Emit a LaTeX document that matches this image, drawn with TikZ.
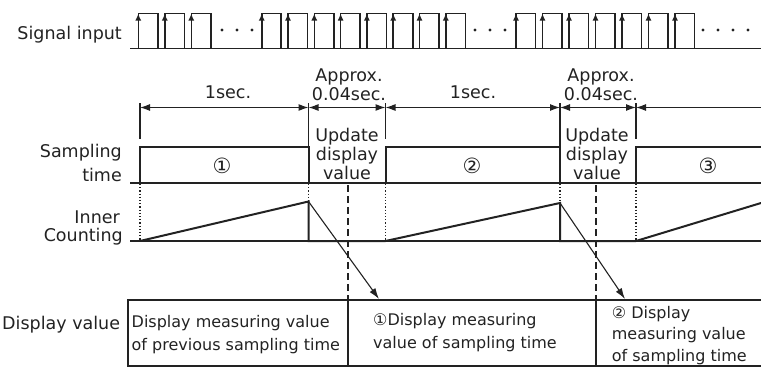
\documentclass[tikz,border=0pt]{standalone}
\usepackage{fontspec}
\setmainfont{DejaVu Sans}
\usetikzlibrary{arrows.meta}
\definecolor{ink}{HTML}{222222}
\newcommand{\lblsize}{\fontsize{17.5}{19}\selectfont}
\newcommand{\numsize}{\fontsize{21}{22}\selectfont}
\newcommand{\boxsize}{\fontsize{16}{18}\selectfont}

\begin{document}
\begin{tikzpicture}[x=1pt,y=-1pt,
  lbl/.style={font=\lblsize, text=ink, inner sep=0pt},
  numlbl/.style={font=\numsize, text=ink, inner sep=0pt},
  boxtxt/.style={font=\boxsize, text=ink, inner sep=0pt, anchor=base west},
  wave/.style={line width=2pt, draw=ink},
  axis/.style={line width=1.1pt, draw=ink},
  pulse/.style={line width=1.6pt, draw=ink},
  dim/.style={axis, {Latex[length=10pt,width=7pt]}-{Latex[length=10pt,width=7pt]}},
  dotline/.style={line width=1.1pt, draw=ink, dash pattern=on 1.2pt off 2pt},
  dashline/.style={line width=1.2pt, draw=ink, dash pattern=on 7pt off 4pt}]

\useasboundingbox (0,0) rectangle (761,367);

% Signal input
\node[lbl, anchor=base east] (sig) at (122,39.5) {Signal input};
\draw[axis] (130,48.5) -- (761,48.5);
\foreach \x in {138.3,164.8,191.3,
                261.7,288,314.3,340.6,366.9,393.2,419.5,445.8,
                516,542.5,569,595.5,622,648.5,675}
{
\draw[pulse] (\x,48.5) -- (\x,13.5) -- ++(19.5,0) -- ++(0,35);
\draw[pulse,-{Latex[length=7pt,width=6pt]}] (\x,48.5) -- (\x,13.5);
}
\foreach \x in {222,237,252,475,490,505,703,718,733,748}
{
\fill[ink] (\x,30) circle (1.7);
}

% Periods
\coordinate (t0) at (140,107.5);
\coordinate (t1) at (308.5,107.5);
\coordinate (t2) at (385.5,107.5);
\coordinate (t3) at (560,107.5);
\coordinate (t4) at (636,107.5);
\coordinate (t5) at (761,107.5);
\draw[axis] (140,103) -- (140,139);
\draw[axis] (308.5,103) -- (308.5,147);
\draw[axis] (385.5,103) -- (385.5,139);
\draw[axis] (560,103) -- (560,147);
\draw[axis] (636,103) -- (636,139);
\draw[dim] (t0) -- (t1);
\draw[dim] (t1) -- (t2);
\draw[dim] (t2) -- (t3);
\draw[dim] (t3) -- (t4);
\draw[axis,{Latex[length=10pt,width=7pt]}-] (t4) -- (t5);

\node[lbl, anchor=base] (sec1) at (228,98.3) {1sec.};
\node[lbl, anchor=base] (sec2) at (473,98.3) {1sec.};
\node[lbl, anchor=base] (apx1a) at (349,81.7) {Approx.};
\node[lbl, anchor=base] (apx1b) at (349,100.7) {0.04sec.};
\node[lbl, anchor=base] (apx2a) at (601,81.7) {Approx.};
\node[lbl, anchor=base] (apx2b) at (601,100.7) {0.04sec.};

% Sampling time
\node[lbl, anchor=base east] (samp) at (122,157.7) {Sampling};
\node[lbl, anchor=base east] (stime) at (122,181) {time};
\draw[axis] (130,183) -- (761,183);
\draw[wave] (140,183) -- (140,147) -- (308.5,147) -- (308.5,183);
\draw[wave] (385.5,183) -- (385.5,147) -- (560,147) -- (560,183);
\draw[wave] (636,183) -- (636,147) -- (761,147);
\node[numlbl] (n1) at (222,166) {①};
\node[numlbl] (n2) at (472,166) {②};
\node[numlbl] (n3) at (708,166) {③};
\node[lbl, anchor=base] (upd1a) at (347,141.7) {Update};
\node[lbl, anchor=base] (upd1b) at (347,160.3) {display};
\node[lbl, anchor=base] (upd1c) at (347,179) {value};
\node[lbl, anchor=base] (upd2a) at (597,141.7) {Update};
\node[lbl, anchor=base] (upd2b) at (597,160.3) {display};
\node[lbl, anchor=base] (upd2c) at (597,179) {value};

% Inner counting
\node[lbl, anchor=base east] (inner) at (120,223.3) {Inner};
\node[lbl, anchor=base east] (count) at (123,241.7) {Counting};
\coordinate (pk1) at (308.5,201.5);
\coordinate (pk2) at (560,203);
\draw[axis] (130,241) -- (761,241);
\draw[wave] (140,241) -- (pk1) -- (308.5,241) -- (385.5,241) -- (pk2) -- (560,241)
  -- (636,241) -- (761,203);

\draw[dotline] (140,184) -- (140,240);
\draw[dotline] (308.5,184) -- (pk1);
\draw[dotline] (385.5,184) -- (385.5,240);
\draw[dotline] (560,184) -- (pk2);
\draw[dotline] (636,184) -- (636,240);

\draw[dashline] (348,185) -- (348,300);
\draw[dashline] (596,185) -- (596,300);

% Display value
\node[lbl, anchor=base west] (disp) at (2,329) {Display value};
\draw[wave] (761,300) -- (128,300) -- (128,366) -- (761,366);
\draw[axis] (348,300) -- (348,366);
\draw[axis] (596,300) -- (596,366);

\coordinate (dv1) at (379,299);
\coordinate (dv2) at (625,299);
\draw[axis,-{Latex[length=11pt,width=7pt]}] (pk1) -- (dv1);
\draw[axis,-{Latex[length=11pt,width=7pt]}] (pk2) -- (dv2);

\node[boxtxt] (prev1) at (131.5,327) {Display measuring value};
\node[boxtxt] (prev2) at (131.5,350) {of previous sampling time};
\node[boxtxt] (cur1) at (373,325) {①Display measuring};
\node[boxtxt] (cur2) at (373,348) {value of sampling time};
\node[boxtxt] (nxt1) at (611.7,318) {② Display};
\node[boxtxt] (nxt2) at (611.7,339.5) {measuring value};
\node[boxtxt] (nxt3) at (611.7,361) {of sampling time};

\end{tikzpicture}
\end{document}
